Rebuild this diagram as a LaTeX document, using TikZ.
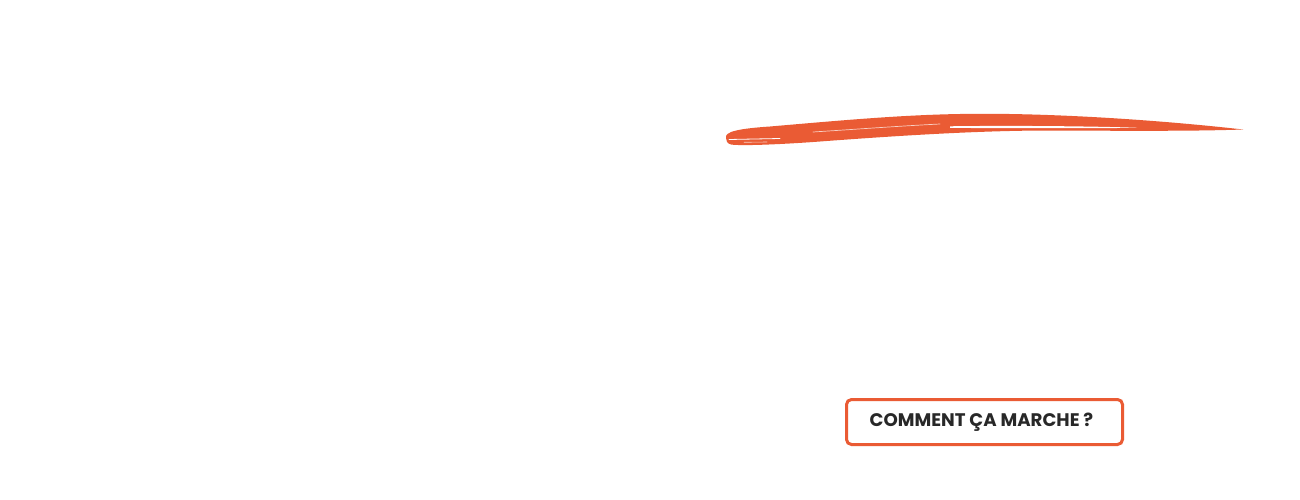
\documentclass[tikz,border=0pt]{standalone}
\usepackage{fontspec}
\setmainfont{Poppins}
\definecolor{brand}{RGB}{234,91,52}
\definecolor{ink}{RGB}{40,40,40}
\begin{document}
\begin{tikzpicture}[x=1pt,y=-1pt,
  btnbox/.style={draw=brand,line width=3pt,rounded corners=5pt,fill=white,
    minimum width=276pt,minimum height=45pt,inner sep=0pt},
  btntext/.style={text=ink,font=\bfseries\fontsize{18.2}{20}\selectfont}]
\useasboundingbox[fill=white] (0,0) rectangle (1300,500);
% brush stroke
\fill[brand] (726,138) .. controls (724,131.5) and (740,128.5) .. (770,126.5)
  .. controls (840,120.5) and (900,115) .. (960,114)
  .. controls (1040,112.5) and (1150,119) .. (1243,129.5)
  .. controls (1200,131) and (1150,131) .. (1050,130.5)
  .. controls (980,130.5) and (900,135.5) .. (820,141.5)
  .. controls (780,144.5) and (740,146) .. (731,144.5)
  .. controls (727,143.5) and (726,141) .. (726,138) -- cycle;
\fill[white] (950,126.3) .. controls (1000,125.5) and (1090,126) .. (1137,127.8)
  .. controls (1090,128.4) and (1000,128.4) .. (950,127.8) -- cycle;
\draw[white,line width=0.8pt,line cap=round] (729,139.5) -- (780,138.5);
\draw[white,opacity=0.7,line width=0.6pt,line cap=round] (744,142.3) -- (767,142);
\draw[white,opacity=0.7,line width=0.7pt,line cap=round] (813,132) .. controls (860,129) and (900,126) .. (940,124);
% button
\node[btnbox] (btn) at (984.5,422) {};
\node[btntext,xshift=-3pt] (lbl) at (btn.center) {COMMENT ÇA MARCHE ?};
\end{tikzpicture}
\end{document}
